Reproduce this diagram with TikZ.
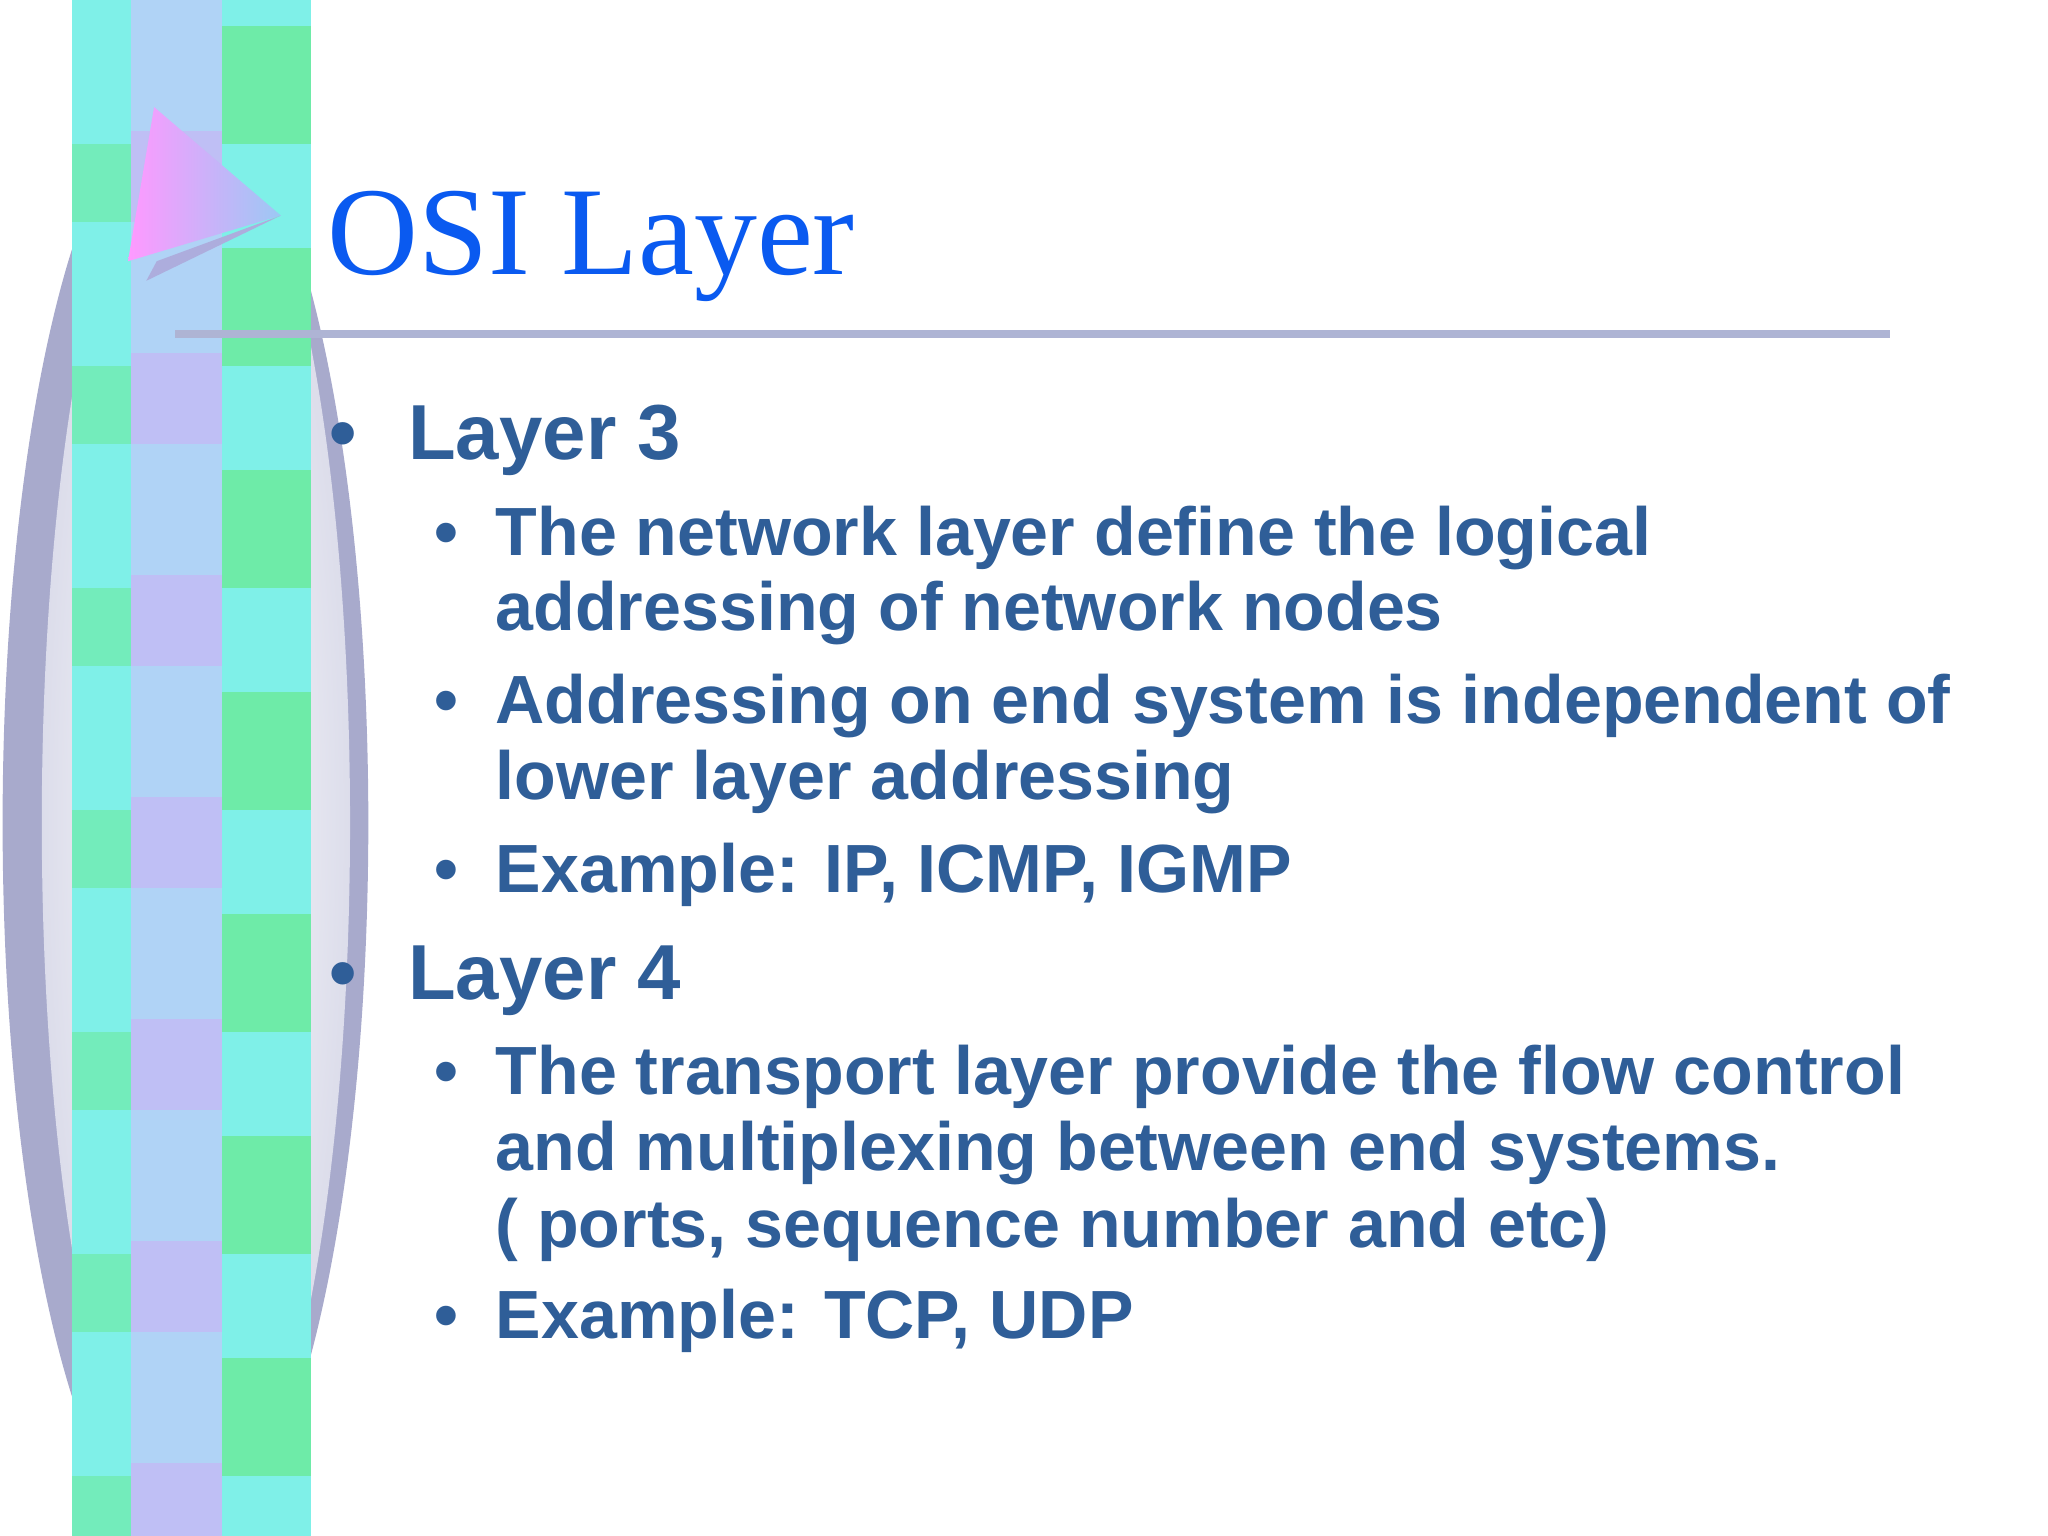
\documentclass[tikz,border=0pt]{standalone}
\usepackage{fontspec}
\setmainfont{Liberation Sans}
\newfontfamily\titlefont{Liberation Serif}
\definecolor{txt}{HTML}{2F5E98}
\definecolor{ttl}{HTML}{0A5AF0}
\definecolor{rule}{HTML}{AEB4D4}
\definecolor{cyanA}{HTML}{7FF0E8}
\definecolor{greenA}{HTML}{6EEBA8}
\definecolor{lavA}{HTML}{B8B8F4}
\definecolor{blueA}{HTML}{9CC8F4}
\definecolor{ellA}{HTML}{A8AACC}
\begin{document}
\begin{tikzpicture}[x=0.013061cm,y=-0.013061cm,
  big/.style={anchor=base west,inner sep=0,text=txt,font=\fontsize{22.2}{26}\selectfont\bfseries},
  small/.style={anchor=base west,inner sep=0,text=txt,font=\fontsize{19.4}{24}\selectfont\bfseries}]
\useasboundingbox (0,0) rectangle (1568,1176);
\fill[white] (0,0) rectangle (1568,1176);
% ellipse
\fill[ellA] (142,630) ellipse (140 and 560);
\shade[inner color=white, outer color=white!60!ellA] (150,630) ellipse (118 and 548);
% stripe
\fill[cyanA] (55,0) rectangle (238,1176);
\foreach \r in {0,1,...,6}{
  \pgfmathsetmacro{\yy}{\r*170}
  \fill[blueA!80] (100,\yy) rectangle (170,\yy+100);
  \fill[lavA!90] (100,\yy+100) rectangle (170,\yy+170);
  \fill[greenA] (170,\yy+20) rectangle (238,\yy+110);
  \fill[greenA!70!cyanA] (55,\yy+110) rectangle (100,\yy+170);
}
% triangle
\shade[left color=magenta!40, right color=blueA] (118,82) -- (215,165) -- (98,200) -- cycle;
\fill[lavA!80!gray] (215,165) -- (112,215) -- (120,200) -- cycle;
% title
\node[anchor=base west,inner sep=0,text=ttl,font=\titlefont\fontsize{35.8}{40}\selectfont] (title) at (250,210) {OSI Layer};
\draw[rule,line width=2.2pt] (134,256) -- (1447,256);
% bullets
\node[big] (b1) at (252,352) {•};
\node[big] (l3) at (312,352) {Layer 3};
\node[small] (s1) at (332,425) {•};
\node[small] (t1) at (379,425) {The network layer define the logical};
\node[small] (t1b) at (379,483) {addressing of network nodes};
\node[small] (s2) at (332,554) {•};
\node[small] (t2) at (379,554) {Addressing on end system is independent of};
\node[small] (t2b) at (379,612) {lower layer addressing};
\node[small] (s3) at (332,683) {•};
\node[small] (t3) at (379,683) {Example: IP, ICMP, IGMP};
\node[big] (b2) at (252,765) {•};
\node[big] (l4) at (312,765) {Layer 4};
\node[small] (s4) at (332,838) {•};
\node[small] (t4) at (379,838) {The transport layer provide the flow control};
\node[small] (t4b) at (379,896) {and multiplexing between end systems.};
\node[small] (t4c) at (379,955) {( ports, sequence number and etc)};
\node[small] (s5) at (332,1025) {•};
\node[small] (t5) at (379,1025) {Example: TCP, UDP};
\end{tikzpicture}
\end{document}
